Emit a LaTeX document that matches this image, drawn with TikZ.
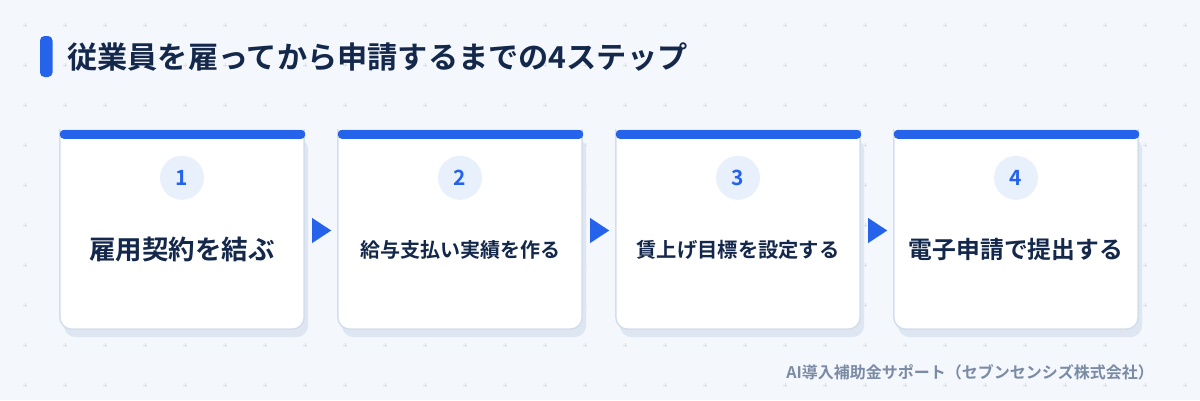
\documentclass[tikz,border=0pt]{standalone}
\usepackage{fontspec}
\setmainfont{Noto Sans CJK JP}[BoldFont={Noto Sans CJK JP Bold}]
\usetikzlibrary{calc}
\definecolor{bg}{HTML}{F4F7FC}
\definecolor{gridc}{HTML}{D9E1ED}
\definecolor{accent}{HTML}{2563EB}
\definecolor{navy}{HTML}{14284B}
\definecolor{cardline}{HTML}{D3DEEC}
\definecolor{shadowc}{HTML}{DEE6F1}
\definecolor{numbg}{HTML}{E8F0FC}
\definecolor{footc}{HTML}{7B8BA5}
\tikzset{
  cardbox/.style={minimum width=244pt, minimum height=199pt, inner sep=0pt, draw=none},
  numcirc/.style={circle, fill=numbg, minimum size=44pt, inner sep=0pt, text=accent, font=\bfseries\fontsize{21}{22}\selectfont},
  txtA/.style={text=navy, font=\bfseries\fontsize{26.5}{28}\selectfont},
  txtB/.style={text=navy, font=\bfseries\fontsize{20}{22}\selectfont},
  txtC/.style={text=navy, font=\bfseries\fontsize{20.3}{22}\selectfont},
  txtD/.style={text=navy, font=\bfseries\fontsize{23.8}{26}\selectfont},
  arr/.style={fill=accent},
}
\begin{document}
\begin{tikzpicture}[x=1pt,y=-1pt]
\fill[bg] (0,0) rectangle (1200,400);
\useasboundingbox (0,0) rectangle (1200,400);
% grid crosses
\foreach \i in {0,...,29}{
  \foreach \j in {0,...,9}{
    \draw[gridc, line width=0.9pt] ({25+40*\i-2.2},{25+40*\j}) -- ({25+40*\i+2.2},{25+40*\j})
      ({25+40*\i},{25+40*\j-2.2}) -- ({25+40*\i},{25+40*\j+2.2});
  }
}
% title
\fill[accent, rounded corners=4.5pt] (40,36) rectangle (52.5,77);
\node[anchor=west, inner sep=0pt, text=navy, font=\bfseries\fontsize{30.2}{32}\selectfont] (title) at (67,57.5) {従業員を雇ってから申請するまでの4ステップ};
% cards
\foreach \n/\cx/\txt/\sty in {1/182/雇用契約を結ぶ/txtA, 2/460/給与支払い実績を作る/txtB, 3/738/賃上げ目標を設定する/txtC, 4/1016/電子申請で提出する/txtD}{
  \node[cardbox] (c\n) at (\cx,229.5) {};
  \fill[shadowc, rounded corners=12pt] ($(c\n.north west)+(4,8)$) rectangle ($(c\n.south east)+(4,8)$);
  \begin{scope}
    \clip ($(c\n.north west)+(-3,0)$) rectangle ($(c\n.south east)+(3,3)$);
    \draw[cardline, fill=white, line width=1.5pt, rounded corners=12pt] ($(c\n.north west)+(0,-14)$) rectangle (c\n.south east);
  \end{scope}
  \fill[accent, rounded corners=4pt] ($(c\n.north west)+(0,0)$) rectangle ($(c\n.north east)+(1,9)$);
  \node[numcirc] (n\n) at ($(c\n.north)+(0,48)$) {\n};
  \node[\sty] (t\n) at ($(c\n.north)+(0,120)$) {\txt};
}
% arrows between cards
\foreach \a/\b in {1/2,2/3,3/4}{
  \coordinate (s\a) at ($(c\a.east)+(8,1)$);
  \fill[arr] ($(s\a)+(0,-12.5)$) -- ($(s\a)+(19,0)$) -- ($(s\a)+(0,12.5)$) -- cycle;
}
% footer
\node[anchor=east, inner sep=0pt, text=footc, font=\bfseries\fontsize{16}{18}\selectfont] (foot) at (1154,372) {AI導入補助金サポート（セブンセンシズ株式会社）};
\end{tikzpicture}
\end{document}
